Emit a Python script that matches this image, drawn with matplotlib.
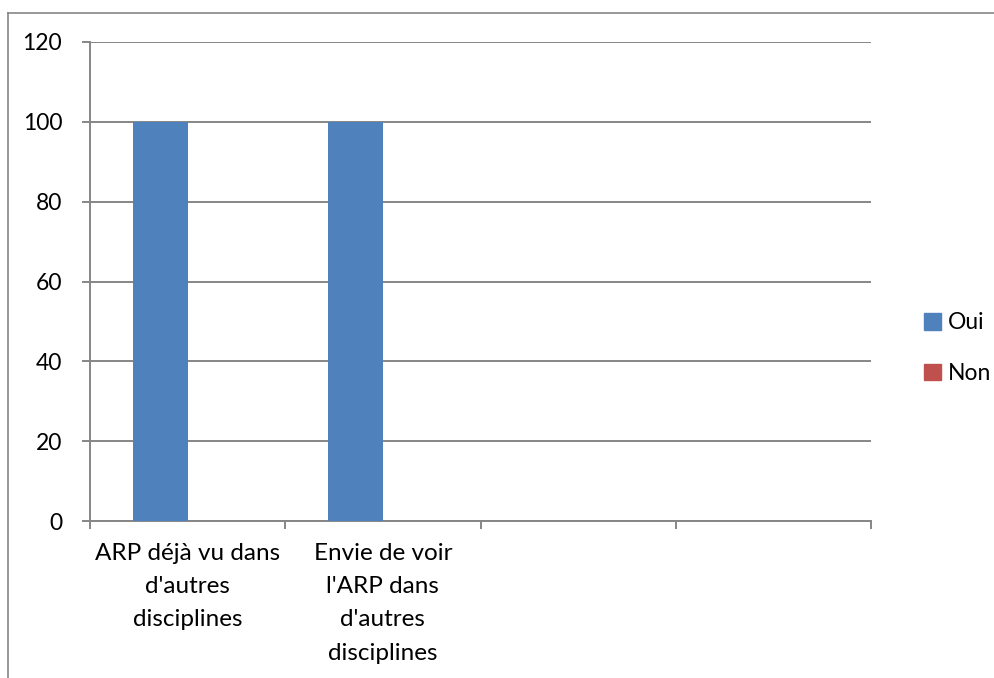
import numpy as np
import matplotlib
matplotlib.use("Agg")
from matplotlib import pyplot as plt
from matplotlib.lines import Line2D
from matplotlib.patches import Patch

plt.rcParams['font.family'] = ['Lato', 'DejaVu Sans']

# data
categories = ["ARP déjà vu dans\nd'autres\ndisciplines",
              "Envie de voir\nl'ARP dans\nd'autres\ndisciplines",
              "", ""]
oui = [100, 100, 0, 0]
non = [0, 0, 0, 0]
series_names = ["Oui", "Non"]
colors = ["#4f81bd", "#c0504d"]
yticks = [0, 20, 40, 60, 80, 100, 120]

fig = plt.figure(figsize=(9.94, 6.78), dpi=100)
ax = fig.add_axes([90 / 994, 1 - 521 / 678, 781 / 994, 479 / 678])

x = np.arange(len(categories))
w = 0.282
ax.bar(x - w / 2, oui, w, color=colors[0], zorder=3)
ax.bar(x + w / 2, non, w, color=colors[1], zorder=3)

ax.set_xlim(-0.5, len(categories) - 0.5)
ax.set_ylim(0, 120)
ax.set_yticks(yticks)
ax.set_yticklabels([str(v) for v in yticks], fontsize=16.5)
ax.yaxis.grid(True, color="#868686", linewidth=1.4, zorder=0)
ax.tick_params(axis="y", length=6, width=1.4, color="#868686", pad=14)

# category boundaries as ticks, labels centred in between
ax.set_xticks(np.arange(len(categories) + 1) - 0.5)
ax.set_xticklabels([])
ax.tick_params(axis="x", length=6, width=1.4, color="#868686")
for i, lab in enumerate(categories):
    ax.text(i, -5.5, lab, ha="center", va="top", fontsize=17.5, linespacing=1.72)

for s in ["top", "right"]:
    ax.spines[s].set_visible(False)
for s in ["left", "bottom"]:
    ax.spines[s].set_color("#868686")
    ax.spines[s].set_linewidth(1.4)

handles = [Patch(color=c) for c in colors]
fig.legend(handles, series_names, loc="center left", bbox_to_anchor=(903 / 994, 1 - 348 / 678),
           frameon=False, fontsize=16.5, handlelength=0.75, handleheight=0.75,
           handletextpad=0.3, labelspacing=1.3)

# chart area border (cropped on the right and bottom)
fig.add_artist(Line2D([8 / 994, 8 / 994], [0, 1 - 13 / 678], color="#868686", linewidth=1.2))
fig.add_artist(Line2D([8 / 994, 1], [1 - 13 / 678, 1 - 13 / 678], color="#868686", linewidth=1.2))

fig.savefig("out.png", dpi=100)
